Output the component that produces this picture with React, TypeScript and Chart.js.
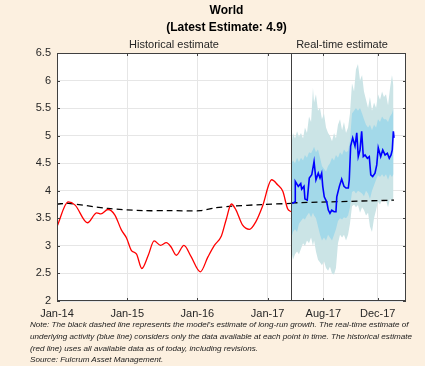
import React, { useEffect, useRef } from "react";
import { Chart, registerables } from "chart.js";

Chart.register(...registerables);

// ---------- DATA ----------
const titleLines = ["World", "(Latest Estimate: 4.9)"];
const panelLabels = ["Historical estimate", "Real-time estimate"];

const yTickValues = [2, 2.5, 3, 3.5, 4, 4.5, 5, 5.5, 6, 6.5];

// Historical panel: x = months since Jan-14
const histTickValues = [0, 12, 24, 36];
const histTickLabels = ["Jan-14", "Jan-15", "Jan-16", "Jan-17"];
const histMonths = [0, 1.9, 3.1, 5.2, 6.8, 7.5, 8.7, 9.9, 11.0, 11.9, 12.7, 13.6, 14.5, 15.6, 16.6, 17.7, 18.7, 19.5, 20.4, 21.7, 22.9, 24.5, 25.8, 26.9, 28.1, 28.9, 29.8, 30.6, 31.7, 32.9, 34.0, 35.1, 36.7, 37.7, 38.6, 39.4, 40.0];
const histValues = [3.35, 3.80, 3.74, 3.42, 3.60, 3.58, 3.66, 3.56, 3.29, 3.14, 2.92, 2.85, 2.59, 2.83, 3.09, 3.01, 3.06, 2.98, 2.83, 3.01, 2.81, 2.53, 2.80, 3.01, 3.18, 3.47, 3.76, 3.65, 3.38, 3.30, 3.44, 3.71, 4.20, 4.11, 3.99, 3.68, 3.62];
const trendHistMonths = [0, 2, 8.7, 14.7, 19, 24.5, 27, 30, 35, 40];
const trendHistValues = [3.76, 3.77, 3.68, 3.64, 3.64, 3.64, 3.69, 3.72, 3.75, 3.77];

// Real-time panel: x = months since Jan-17
const rtTickValues = [7, 11];
const rtTickLabels = ["Aug-17", "Dec-17"];
const rtMonths = [4.72, 4.92, 4.94, 5.16, 5.34, 5.41, 5.58, 5.65, 5.82, 5.97, 6.15, 6.32, 6.46, 6.63, 6.76, 6.88, 6.96, 7.07, 7.25, 7.37, 7.49, 7.62, 7.79, 7.93, 7.99, 8.18, 8.35, 8.52, 8.67, 8.84, 8.91, 9.01, 9.16, 9.33, 9.46, 9.57, 9.70, 9.82, 9.94, 10.07, 10.24, 10.38, 10.49, 10.63, 10.80, 10.93, 11.04, 11.22, 11.37, 11.54, 11.71, 11.85, 11.98, 12.07, 12.15, 12.20];
const rtValues = [3.77, 3.80, 4.17, 4.08, 4.13, 4.03, 4.08, 3.85, 3.83, 4.23, 4.29, 4.53, 4.20, 4.32, 4.23, 4.32, 4.08, 3.89, 3.80, 3.65, 3.59, 3.65, 3.62, 3.62, 3.89, 4.08, 4.21, 4.08, 4.05, 4.05, 4.20, 4.81, 4.96, 4.81, 5.05, 4.62, 4.74, 5.08, 4.62, 4.65, 4.59, 4.62, 4.29, 4.26, 4.32, 4.47, 4.78, 4.62, 4.74, 4.65, 4.68, 4.59, 4.65, 4.74, 5.08, 4.96];
const trendRtMonths = [4.66, 12.2];
const trendRtValues = [3.78, 3.83];

const bandMonths = [4.66, 4.77, 4.92, 5.07, 5.21, 5.36, 5.51, 5.65, 5.80, 5.95, 6.10, 6.24, 6.32, 6.46, 6.61, 6.76, 6.90, 7.05, 7.20, 7.35, 7.49, 7.64, 7.79, 7.93, 8.08, 8.23, 8.38, 8.52, 8.67, 8.82, 8.96, 9.11, 9.26, 9.40, 9.55, 9.70, 9.85, 9.99, 10.14, 10.29, 10.43, 10.58, 10.73, 10.88, 11.02, 11.17, 11.32, 11.46, 11.61, 11.76, 11.90, 12.05, 12.16];
const outerUpper = [4.85, 5.05, 4.95, 5.08, 4.98, 5.05, 4.95, 5.15, 5.05, 5.35, 5.25, 5.87, 5.60, 5.75, 5.45, 5.50, 5.30, 5.40, 5.15, 5.05, 5.00, 4.90, 5.05, 4.95, 5.20, 5.30, 5.10, 5.25, 5.05, 5.15, 5.40, 5.95, 5.80, 6.20, 6.30, 6.00, 6.10, 5.80, 5.65, 5.50, 5.70, 5.45, 5.60, 5.50, 5.75, 5.65, 5.80, 5.70, 5.75, 5.55, 5.85, 6.10, 5.90];
const innerUpper = [4.50, 4.55, 4.50, 4.60, 4.52, 4.60, 4.55, 4.65, 4.60, 4.70, 4.68, 4.75, 4.80, 4.70, 4.75, 4.60, 4.45, 4.40, 4.35, 4.45, 4.50, 4.60, 4.55, 4.65, 4.60, 4.70, 4.65, 4.75, 4.70, 4.72, 4.90, 5.40, 5.45, 5.50, 5.45, 5.50, 5.40, 5.30, 5.20, 5.15, 5.20, 5.10, 5.20, 5.15, 5.30, 5.25, 5.35, 5.30, 5.30, 5.25, 5.35, 5.40, 5.50];
const innerLower = [3.15, 3.25, 3.30, 3.25, 3.40, 3.45, 3.50, 3.48, 3.55, 3.60, 3.52, 3.60, 3.55, 3.50, 3.35, 3.20, 3.10, 3.15, 3.10, 3.20, 3.15, 3.10, 3.20, 3.30, 3.45, 3.50, 3.48, 3.52, 3.50, 3.55, 3.70, 3.98, 4.00, 3.95, 4.00, 3.98, 3.95, 3.90, 4.00, 3.95, 3.85, 4.00, 4.10, 4.20, 4.28, 4.25, 4.30, 4.25, 4.30, 4.20, 4.30, 4.25, 4.30];
const outerLower = [2.90, 2.75, 2.85, 2.90, 2.85, 2.95, 3.05, 3.00, 3.10, 3.05, 3.15, 3.00, 3.10, 2.90, 2.75, 2.70, 2.65, 2.72, 2.60, 2.55, 2.62, 2.50, 2.48, 2.60, 3.05, 3.20, 3.15, 3.20, 3.10, 3.20, 3.40, 3.72, 3.75, 3.70, 3.74, 3.60, 3.70, 3.65, 3.55, 3.60, 3.35, 3.25, 3.50, 3.65, 3.80, 3.75, 3.85, 3.80, 3.83, 3.70, 3.85, 3.80, 3.88];

const noteLines = [
  "Note: The black dashed line represents the model's estimate of long-run growth. The real-time estimate of",
  "underlying activity (blue line) considers only the data available at each point in time. The historical estimate",
  "(red line) uses all available data as of today, including revisions.",
  "Source: Fulcrum Asset Management.",
];

// ---------- HELPERS ----------
const pts = (xs: number[], ys: number[]) => xs.map((x, i) => ({ x, y: ys[i] }));

const FONT = "'Liberation Sans', Arial, sans-serif";
const AXIS_COLOR = "#404040";
const GRID_COLOR = "#e6e6e6";

const framePlugin = {
  id: "frame",
  beforeDraw(chart: any) {
    const { ctx, chartArea: a } = chart;
    ctx.save();
    ctx.fillStyle = "#ffffff";
    ctx.fillRect(a.left, a.top, a.right - a.left, a.bottom - a.top);
    ctx.restore();
  },
  afterDraw(chart: any) {
    const { ctx, chartArea: a, scales } = chart;
    const x1 = scales.x1;
    const x2 = scales.x2;
    const y = scales.y;
    ctx.save();
    ctx.strokeStyle = AXIS_COLOR;
    ctx.lineWidth = 1;
    const tl = 3;
    ctx.beginPath();
    for (const v of yTickValues) {
      const py = Math.round(y.getPixelForValue(v)) + 0.5;
      ctx.moveTo(a.left, py);
      ctx.lineTo(a.left + tl, py);
      ctx.moveTo(a.right, py);
      ctx.lineTo(a.right - tl, py);
    }
    const xt: number[] = [];
    histTickValues.forEach((v) => xt.push(x1.getPixelForValue(v)));
    rtTickValues.forEach((v) => xt.push(x2.getPixelForValue(v)));
    for (const px0 of xt) {
      const px = Math.round(px0) + 0.5;
      ctx.moveTo(px, a.top);
      ctx.lineTo(px, a.top + tl);
      ctx.moveTo(px, a.bottom);
      ctx.lineTo(px, a.bottom - tl);
    }
    ctx.stroke();
    // box
    ctx.strokeRect(Math.round(a.left) + 0.5, Math.round(a.top) + 0.5, Math.round(a.right - a.left) - 1, Math.round(a.bottom - a.top) - 1);
    // divider
    const dx = Math.round(x1.right) + 0.5;
    ctx.beginPath();
    ctx.moveTo(dx, a.top);
    ctx.lineTo(dx, a.bottom);
    ctx.stroke();

    // texts
    ctx.fillStyle = "#000000";
    ctx.textAlign = "center";
    ctx.textBaseline = "middle";
    ctx.font = `bold 12px ${FONT}`;
    const cx = (a.left + a.right) / 2 - 5;
    ctx.fillText(titleLines[0], cx, 11);
    ctx.fillText(titleLines[1], cx, 28);
    ctx.fillStyle = "#262626";
    ctx.font = `11px ${FONT}`;
    ctx.fillText(panelLabels[0], (x1.left + x1.right) / 2, 45);
    ctx.fillText(panelLabels[1], x2.left + 51, 45);
    ctx.restore();
  },
};

export default function App() {
  const ref = useRef<HTMLCanvasElement>(null);
  useEffect(() => {
    if (!ref.current) return;
    const lineBase = { pointRadius: 0, pointHoverRadius: 0, fill: false };
    const chart = new Chart(ref.current, {
      type: "line",
      data: {
        datasets: [
          { ...lineBase, label: "Real-time", xAxisID: "x2", data: pts(rtMonths, rtValues), borderColor: "#0000ff", borderWidth: 1.6, tension: 0, order: 0 },
          { ...lineBase, label: "Historical", xAxisID: "x1", data: pts(histMonths, histValues), borderColor: "#ff0000", borderWidth: 1.3, cubicInterpolationMode: "monotone", order: 1 },
          { ...lineBase, label: "Trend hist", xAxisID: "x1", data: pts(trendHistMonths, trendHistValues), borderColor: "#000000", borderWidth: 1.3, borderDash: [6, 4], tension: 0.3, order: 2 },
          { ...lineBase, label: "Trend rt", xAxisID: "x2", data: pts(trendRtMonths, trendRtValues), borderColor: "#000000", borderWidth: 1.3, borderDash: [6, 4], order: 2 },
          { ...lineBase, label: "Inner upper", xAxisID: "x2", data: pts(bandMonths, innerUpper), borderWidth: 0, borderColor: "rgba(0,0,0,0)", backgroundColor: "#a3d9e9", fill: "+1", order: 3 },
          { ...lineBase, label: "Inner lower", xAxisID: "x2", data: pts(bandMonths, innerLower), borderWidth: 0, borderColor: "rgba(0,0,0,0)", order: 3 },
          { ...lineBase, label: "Outer upper", xAxisID: "x2", data: pts(bandMonths, outerUpper), borderWidth: 0, borderColor: "rgba(0,0,0,0)", backgroundColor: "#cbe4e6", fill: "+1", order: 4 },
          { ...lineBase, label: "Outer lower", xAxisID: "x2", data: pts(bandMonths, outerLower), borderWidth: 0, borderColor: "rgba(0,0,0,0)", order: 4 },
        ],
      },
      options: {
        animation: false,
        responsive: false,
        events: [],
        layout: { padding: { top: 53, right: 19, left: 0, bottom: 0 } },
        plugins: { legend: { display: false }, tooltip: { enabled: false }, title: { display: false } },
        scales: {
          x1: {
            type: "linear",
            position: "bottom",
            stack: "xs",
            stackWeight: 234,
            min: 0,
            max: 40,
            border: { display: false },
            grid: { color: GRID_COLOR, drawTicks: false },
            afterBuildTicks: (s: any) => { s.ticks = histTickValues.map((v) => ({ value: v })); },
            afterFit: (s: any) => { s.height = 21; },
            ticks: {
              autoSkip: false,
              maxRotation: 0,
              padding: 6,
              color: "#262626",
              font: { family: FONT, size: 11 },
              callback: (v: any) => histTickLabels[histTickValues.indexOf(Number(v))] ?? "",
            },
          },
          x2: {
            type: "linear",
            position: "bottom",
            stack: "xs",
            stackWeight: 115,
            min: 4.625,
            max: 13.08,
            border: { display: false },
            grid: { color: GRID_COLOR, drawTicks: false },
            afterBuildTicks: (s: any) => { s.ticks = rtTickValues.map((v) => ({ value: v })); },
            afterFit: (s: any) => { s.height = 21; },
            ticks: {
              autoSkip: false,
              maxRotation: 0,
              padding: 6,
              color: "#262626",
              font: { family: FONT, size: 11 },
              callback: (v: any) => rtTickLabels[rtTickValues.indexOf(Number(v))] ?? "",
            },
          },
          y: {
            type: "linear",
            position: "left",
            min: 2,
            max: 6.5,
            border: { display: false },
            grid: { color: GRID_COLOR, drawTicks: false },
            afterBuildTicks: (s: any) => { s.ticks = yTickValues.map((v) => ({ value: v })); },
            afterFit: (s: any) => { s.width = 57; },
            ticks: {
              padding: 6,
              color: "#262626",
              font: { family: FONT, size: 11 },
              callback: (v: any) => String(v),
            },
          },
        },
      },
      plugins: [framePlugin],
    } as any);
    return () => chart.destroy();
  }, []);

  return (
    <div style={{ position: "fixed", left: 0, top: 0, width: 425, height: 366, background: "#fcf0e0", overflow: "hidden" }}>
      <canvas ref={ref} width={425} height={322} style={{ position: "absolute", left: 0, top: 0, width: 425, height: 322 }} />
      <div
        style={{
          position: "absolute",
          left: 30,
          top: 319,
          fontFamily: FONT,
          fontStyle: "italic",
          fontSize: "8.1px",
          lineHeight: "11.8px",
          color: "#1a1a1a",
          whiteSpace: "nowrap",
        }}
      >
        {noteLines.map((l, i) => (
          <div key={i}>{l}</div>
        ))}
      </div>
    </div>
  );
}
